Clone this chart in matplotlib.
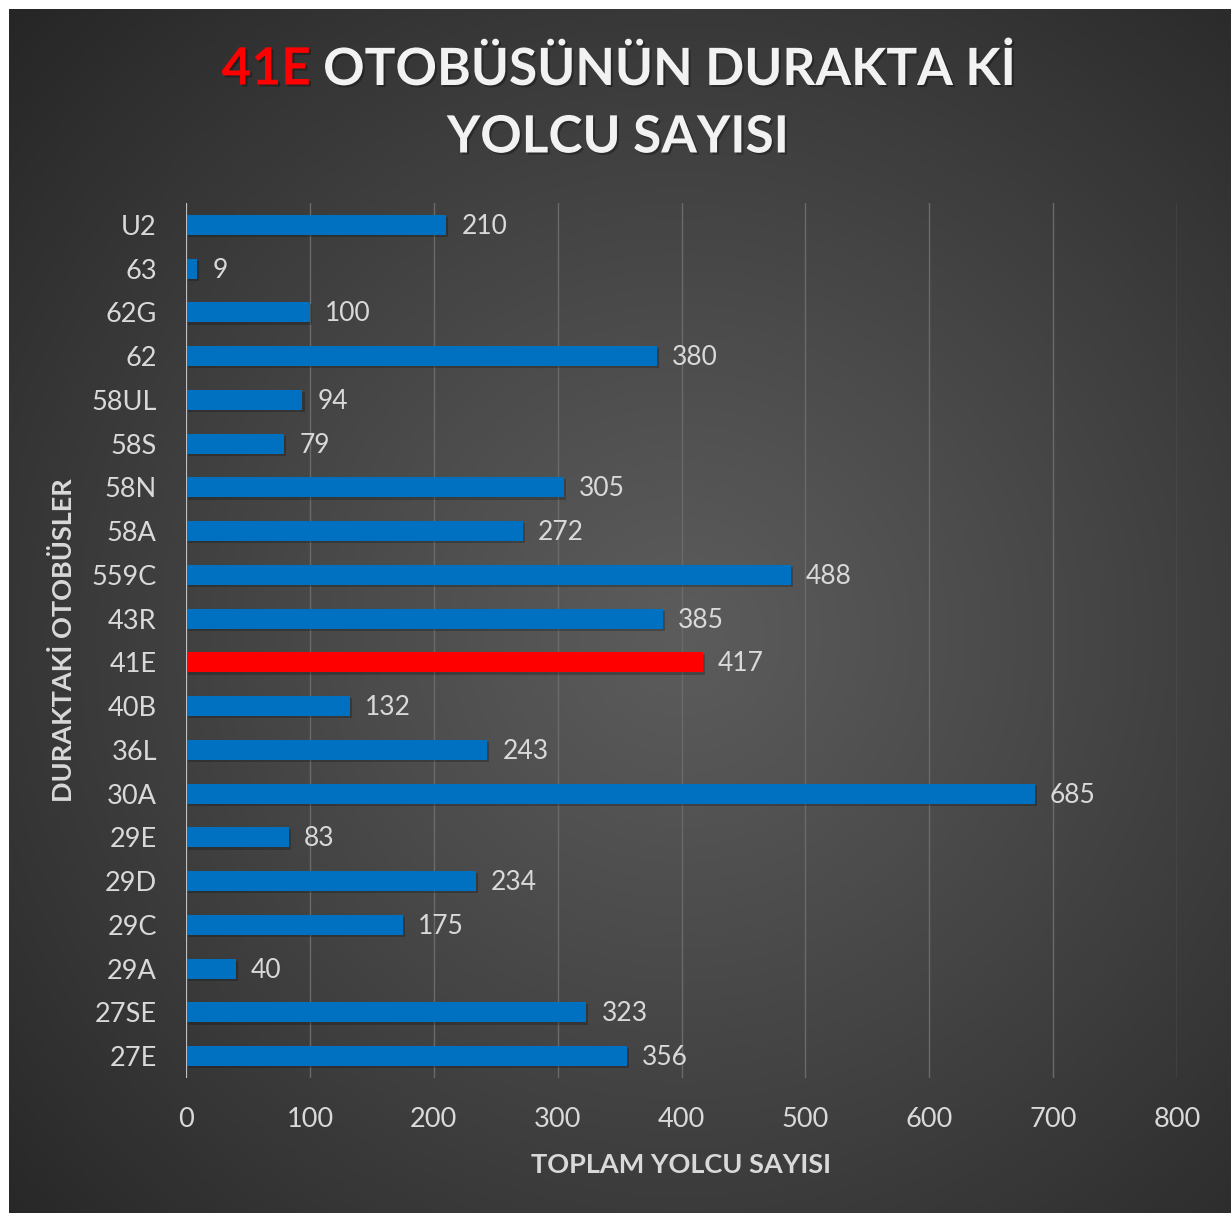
import numpy as np
import matplotlib.pyplot as plt
import matplotlib.patheffects as pe

# bus lines, bottom to top as drawn
hatlar = ['27E', '27SE', '29A', '29C', '29D', '29E', '30A', '36L', '40B', '41E',
          '43R', '559C', '58A', '58N', '58S', '58UL', '62', '62G', '63', 'U2']
yolcu = [356, 323, 40, 175, 234, 83, 685, 243, 132, 417,
         385, 488, 272, 305, 79, 94, 380, 100, 9, 210]
vurgu = '41E'
x_ticks = [0, 100, 200, 300, 400, 500, 600, 700, 800]

plt.rcParams['font.family'] = ['Lato', 'DejaVu Sans']
W, H = 1231, 1213
fig = plt.figure(figsize=(W / 100, H / 100), dpi=100)
fig.patch.set_facecolor('white')

# dark panel with radial gradient
bg = fig.add_axes([9 / W, 0, (W - 9) / W, (H - 9) / H])
bg.set_axis_off()
yy, xx = np.mgrid[0:1:400j, 0:1:400j]
d = np.sqrt(((xx - 0.55) / 0.75) ** 2 + ((yy - 0.48) / 0.75) ** 2)
d = np.clip(d, 0, 1)
lvl = 0.36 - (0.36 - 0.15) * d ** 1.1
bg.imshow(np.dstack([lvl, lvl, lvl]), extent=[0, 1, 0, 1], aspect='auto', origin='lower')
bg.set_xlim(0, 1)
bg.set_ylim(0, 1)

ax = fig.add_axes([186 / W, 1 - 1078 / H, (1177 - 186) / W, (1078 - 203) / H])
ax.patch.set_alpha(0)

renkler = ['#FF0000' if h == vurgu else '#0070C0' for h in hatlar]
pos = np.arange(len(hatlar))
bars = ax.barh(pos, yolcu, height=0.46, color=renkler, zorder=3)
for b in bars:
    b.set_path_effects([pe.SimplePatchShadow(offset=(1.5, -1.5), shadow_rgbFace='black', alpha=0.22), pe.Normal()])

for p, v in zip(pos, yolcu):
    ax.annotate(str(v), (v, p), xytext=(11, -1), textcoords='offset points',
                va='center', ha='left', fontsize=19, color='#D9D9D9')

ax.set_xlim(0, 800)
ax.set_ylim(-0.5, len(hatlar) - 0.5)
ax.set_xticks(x_ticks)
ax.set_yticks(pos)
ax.set_yticklabels(hatlar)
ax.tick_params(axis='both', length=0, labelsize=19.5, colors='#D9D9D9')
ax.tick_params(axis='y', pad=21)
ax.tick_params(axis='x', pad=21)
ax.grid(axis='x', color='#6A6A6A', lw=1, zorder=0)
for s in ax.spines.values():
    s.set_visible(False)
ax.axvline(0, color='#BFBFBF', lw=1.5, zorder=4)

ax.set_xlabel('TOPLAM YOLCU SAYISI', fontsize=19.5, fontweight='bold', color='#D9D9D9', labelpad=15)
ax.set_ylabel('DURAKTAKİ OTOBÜSLER', fontsize=19.5, fontweight='bold', color='#D9D9D9', labelpad=11)

# two-colour title
golge = [pe.withSimplePatchShadow(offset=(1.5, -1.5), shadow_rgbFace='black', alpha=0.3)]
tkw = dict(fontsize=37, fontweight='bold', va='center', path_effects=golge)
r = fig.canvas.get_renderer()
t1 = fig.text(0, 1 - 70 / H, '41E ', color='#FF0000', ha='left', **tkw)
t2 = fig.text(0, 1 - 70 / H, 'OTOBÜSÜNÜN DURAKTA Kİ', color='#F2F2F2', ha='left', **tkw)
w1 = t1.get_window_extent(r).width
w2 = t2.get_window_extent(r).width
x0 = 618 - (w1 + w2) / 2
t1.set_x(x0 / W)
t2.set_x((x0 + w1) / W)
fig.text(618 / W, 1 - 138 / H, 'YOLCU SAYISI', color='#F2F2F2', ha='center', **tkw)

fig.savefig('out.png', dpi=100)
